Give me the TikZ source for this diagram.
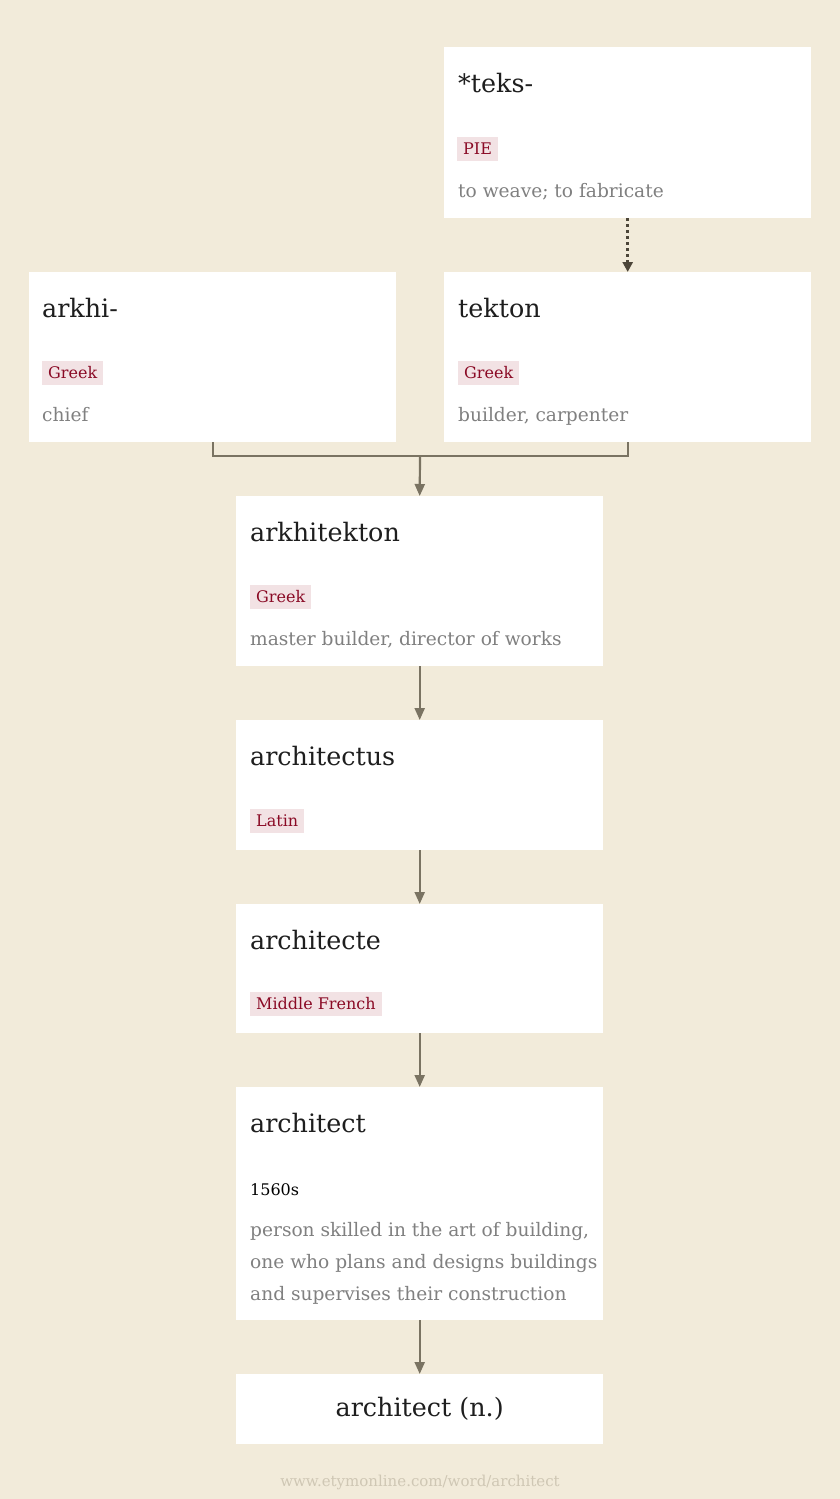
\documentclass[tikz,border=0pt]{standalone}
\usepackage{fontspec}
\setmainfont{DejaVu Serif}
\usetikzlibrary{arrows.meta}
\definecolor{bg}{HTML}{F2EBDA}
\definecolor{tagbg}{HTML}{F2E2E4}
\definecolor{tagfg}{HTML}{8A0A25}
\definecolor{gloss}{HTML}{808080}
\definecolor{ttl}{HTML}{1E1E1E}
\definecolor{conn}{HTML}{7A7362}
\definecolor{dotc}{HTML}{4C4538}
\definecolor{foot}{HTML}{CFC7B4}
\tikzset{
  card/.style={fill=white, draw=none, anchor=north west, inner sep=0pt},
  ttlnode/.style={anchor=base west, inner sep=0pt, text=ttl, font=\fontsize{25.4}{30}\selectfont},
  tagnode/.style={anchor=west, fill=tagbg, text=tagfg, inner xsep=6pt, inner ysep=0pt, minimum height=24pt, font=\fontsize{16}{20}\selectfont},
  glossnode/.style={anchor=base west, inner sep=0pt, text=gloss, font=\fontsize{18.6}{32}\selectfont},
  datenode/.style={anchor=base west, inner sep=0pt, text=black, font=\fontsize{16}{20}\selectfont},
  link/.style={draw=conn, line width=2.2pt},
  arrowlink/.style={link, -{Triangle[length=12pt,width=10pt]}},
  dotlink/.style={draw=dotc, line width=3pt, dash pattern=on 3pt off 3pt, -{Triangle[length=10pt,width=10pt]}}
}
\begin{document}
\begin{tikzpicture}[x=1pt,y=-1pt]
\useasboundingbox (0,0) rectangle (840,1499);
\fill[bg] (0,0) rectangle (840,1499);

% teks
\node[card, minimum width=367pt, minimum height=171pt] (teks) at (444,47) {};
\node[ttlnode] (teksT) at (458,92) {*teks-};
\node[tagnode] (teksL) at (457,149) {PIE};
\node[glossnode] (teksG) at (458,197) {to weave; to fabricate};

% arkhi
\node[card, minimum width=367pt, minimum height=170pt] (arkhi) at (29,272) {};
\node[ttlnode] (arkhiT) at (42,317) {arkhi-};
\node[tagnode] (arkhiL) at (42,373) {Greek};
\node[glossnode] (arkhiG) at (42,421) {chief};

% tekton
\node[card, minimum width=367pt, minimum height=170pt] (tekton) at (444,272) {};
\node[ttlnode] (tektonT) at (458,317) {tekton};
\node[tagnode] (tektonL) at (458,373) {Greek};
\node[glossnode] (tektonG) at (458,421) {builder, carpenter};

% arkhitekton
\node[card, minimum width=367pt, minimum height=170pt] (arkhitekton) at (236,496) {};
\node[ttlnode] (arkhitektonT) at (250,541) {arkhitekton};
\node[tagnode] (arkhitektonL) at (250,597) {Greek};
\node[glossnode] (arkhitektonG) at (250,645) {master builder, director of works};

% architectus
\node[card, minimum width=367pt, minimum height=130pt] (architectus) at (236,720) {};
\node[ttlnode] (architectusT) at (250,765) {architectus};
\node[tagnode] (architectusL) at (250,821) {Latin};

% architecte
\node[card, minimum width=367pt, minimum height=129pt] (architecte) at (236,904) {};
\node[ttlnode] (architecteT) at (250,949) {architecte};
\node[tagnode] (architecteL) at (250,1004) {Middle French};

% architect
\node[card, minimum width=367pt, minimum height=233pt] (architect) at (236,1087) {};
\node[ttlnode] (architectT) at (250,1132) {architect};
\node[datenode] (architectD) at (250,1195) {1560s};
\node[glossnode] (architectG1) at (250,1236) {person skilled in the art of building,};
\node[glossnode] (architectG2) at (250,1268) {one who plans and designs buildings};
\node[glossnode] (architectG3) at (250,1300) {and supervises their construction};

% architect (n.)
\node[fill=white, minimum width=367pt, minimum height=70pt, inner sep=0pt, anchor=north west] (final) at (236,1374) {};
\node[inner sep=0pt, text=ttl, font=\fontsize{25.4}{30}\selectfont] (finalT) at (final.center) {architect (n.)};

% footer
\node[text=foot, inner sep=0pt, font=\fontsize{15}{20}\selectfont] (footer) at (420,1482) {www.etymonline.com/word/architect};

% connectors
\coordinate (join) at (420,456);
\draw[dotlink] (teks.south) -- (tekton.north);
\draw[link] (arkhi.south) |- (join) -| (tekton.south);
\draw[arrowlink] (join) -- (arkhitekton.north);
\draw[arrowlink] (arkhitekton.south) -- (architectus.north);
\draw[arrowlink] (architectus.south) -- (architecte.north);
\draw[arrowlink] (architecte.south) -- (architect.north);
\draw[arrowlink] (architect.south) -- (final.north);
\end{tikzpicture}
\end{document}
